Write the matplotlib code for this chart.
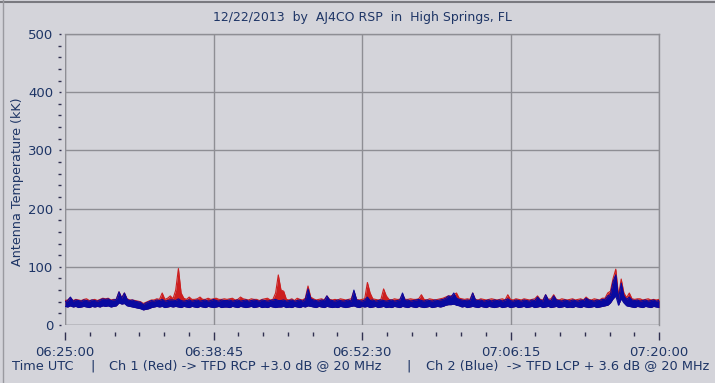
import numpy as np
import matplotlib
matplotlib.use("Agg")
import matplotlib.pyplot as plt
from matplotlib.ticker import FixedLocator, MultipleLocator

# ---------------- data ----------------
title = "12/22/2013  by  AJ4CO RSP  in  High Springs, FL"
ylabel = "Antenna Temperature (kK)"
xtick_seconds = [0, 825, 1650, 2475, 3300]
xtick_labels = ["06:25:00", "06:38:45", "06:52:30", "07:06:15", "07:20:00"]
sample_step_s = 15  # seconds between samples, starting 06:25:00

# Ch 2 (Blue) -> TFD LCP, upper / lower edge of the noisy trace, kK
blue_top = [
    40, 42, 48, 41, 43, 42, 41, 43, 42, 41, 43, 42, 41, 43, 45, 44, 45, 42, 43, 44,
    57, 46, 55, 44, 42, 43, 41, 40, 39, 35, 38, 40, 42, 41, 43, 42, 44, 41, 42, 43,
    43, 42, 45, 42, 41, 42, 43, 41, 42, 43, 41, 42, 43, 41, 42, 44, 42, 41, 43, 42,
    42, 43, 41, 42, 43, 41, 42, 43, 41, 42, 43, 42, 41, 43, 42, 41, 42, 43, 44, 42,
    42, 43, 41, 42, 43, 41, 42, 43, 41, 44, 62, 45, 43, 42, 41, 43, 42, 50, 43, 42,
    41, 43, 42, 41, 42, 43, 41, 60, 43, 42, 41, 43, 48, 42, 43, 41, 42, 43, 42, 41,
    42, 43, 41, 42, 43, 55, 42, 43, 41, 42, 43, 44, 42, 41, 43, 42, 41, 43, 42, 43,
    44, 46, 50, 48, 55, 46, 44, 43, 42, 43, 42, 55, 43, 42, 43, 41, 42, 43, 41, 43,
    42, 43, 41, 43, 45, 42, 41, 43, 42, 41, 43, 42, 41, 43, 42, 48, 43, 41, 52, 43,
    42, 50, 43, 42, 41, 43, 42, 41, 43, 42, 41, 43, 42, 46, 43, 42, 41, 43, 42, 44,
    44, 50, 52, 75, 86, 45, 72, 50, 44, 48, 43, 42, 43, 41, 42, 43, 41, 42, 43, 41, 42,
]
blue_bot = [
    32, 31, 33, 31, 32, 30, 31, 32, 31, 30, 32, 31, 32, 31, 33, 32, 33, 31, 32, 33,
    38, 36, 37, 33, 32, 31, 30, 29, 28, 26, 27, 28, 30, 31, 32, 31, 32, 30, 31, 32,
    31, 32, 31, 30, 32, 31, 30, 32, 31, 30, 32, 31, 30, 32, 31, 30, 31, 32, 30, 31,
    31, 30, 32, 31, 30, 32, 31, 30, 31, 32, 30, 31, 32, 30, 31, 30, 32, 31, 30, 31,
    31, 32, 30, 31, 30, 32, 31, 30, 32, 31, 33, 32, 31, 30, 32, 31, 30, 32, 31, 30,
    31, 30, 32, 31, 30, 31, 32, 33, 31, 30, 32, 31, 32, 30, 31, 32, 30, 31, 32, 30,
    31, 30, 32, 31, 30, 32, 31, 30, 32, 31, 30, 32, 31, 30, 31, 32, 30, 31, 32, 31,
    32, 34, 35, 35, 36, 34, 33, 31, 32, 30, 31, 32, 31, 30, 32, 31, 30, 32, 31, 30,
    31, 32, 30, 31, 32, 30, 31, 32, 30, 31, 32, 30, 31, 32, 30, 31, 32, 30, 31, 32,
    30, 31, 32, 30, 31, 32, 30, 31, 30, 32, 31, 30, 32, 31, 30, 31, 32, 30, 31, 32,
    33, 34, 38, 45, 50, 34, 45, 38, 33, 32, 31, 30, 32, 31, 30, 32, 31, 30, 32, 31, 30,
]

# Ch 1 (Red) -> TFD RCP, upper edge of the noisy trace, kK
red_top = [
    42, 43, 47, 42, 44, 43, 42, 44, 45, 42, 43, 44, 42, 44, 46, 45, 46, 43, 44, 44,
    57, 47, 55, 45, 43, 43, 42, 41, 40, 37, 39, 41, 43, 43, 45, 44, 55, 44, 46, 50,
    45, 60, 97, 55, 46, 44, 48, 44, 44, 45, 48, 44, 44, 46, 44, 45, 46, 44, 44, 45,
    44, 45, 46, 43, 44, 48, 45, 44, 43, 45, 44, 44, 42, 44, 45, 46, 43, 44, 55, 86,
    60, 58, 44, 43, 45, 42, 46, 44, 43, 46, 67, 48, 45, 43, 44, 45, 43, 50, 44, 43,
    44, 43, 45, 44, 43, 44, 45, 58, 44, 43, 44, 45, 73, 55, 45, 44, 43, 44, 62, 50,
    44, 43, 45, 44, 44, 52, 44, 44, 45, 44, 44, 45, 52, 44, 43, 45, 44, 43, 44, 45,
    46, 48, 50, 50, 52, 55, 46, 45, 44, 45, 44, 55, 44, 43, 45, 44, 43, 44, 45, 44,
    43, 44, 45, 43, 52, 44, 43, 45, 44, 43, 45, 44, 43, 44, 45, 50, 44, 43, 52, 44,
    45, 52, 44, 43, 45, 44, 43, 44, 45, 43, 44, 45, 43, 48, 44, 43, 45, 44, 43, 46,
    46, 55, 58, 80, 96, 50, 79, 55, 47, 55, 45, 44, 45, 45, 43, 44, 45, 43, 44, 43, 44,
]

caption_parts = [
    "Time UTC",
    "|",
    "Ch 1 (Red) -> TFD RCP +3.0 dB @ 20 MHz",
    "|",
    "Ch 2 (Blue)  -> TFD LCP + 3.6 dB @ 20 MHz",
]

# ---------------- style ----------------
W, H = 715, 383
bg = "#d4d4da"
txt = "#1e3566"
grid_c = "#8e8e94"
red_c = "#cc1e1e"
blue_c = "#0a0aa0"

fig = plt.figure(figsize=(W / 100, H / 100), dpi=100, facecolor=bg)
ax = fig.add_axes([65 / W, (H - 325) / H, (659 - 65) / W, (325 - 34) / H])
ax.set_facecolor(bg)

t = np.arange(len(blue_top)) * sample_step_s
ax.fill_between(t, blue_bot, red_top, color=red_c, lw=0, zorder=3)
ax.plot(t, red_top, color=red_c, lw=0.8, zorder=3)
ax.fill_between(t, blue_bot, blue_top, color=blue_c, lw=0, zorder=4)
ax.plot(t, blue_top, color=blue_c, lw=0.8, zorder=4)
ax.plot(t, blue_bot, color=blue_c, lw=0.8, zorder=4)

ax.set_xlim(0, 3300)
ax.set_ylim(0, 500)

ax.xaxis.set_major_locator(FixedLocator(xtick_seconds))
ax.set_xticklabels(xtick_labels)
ax.xaxis.set_minor_locator(MultipleLocator(137.5))
ax.yaxis.set_major_locator(MultipleLocator(100))
ax.yaxis.set_minor_locator(MultipleLocator(20))

ax.grid(True, which="major", color=grid_c, lw=1.0, zorder=1)
for s in ax.spines.values():
    s.set_color(grid_c)
    s.set_linewidth(1.0)
ax.spines["bottom"].set_position(("outward", 5))
ax.spines["bottom"].set_visible(False)
ax.spines["left"].set_position(("outward", 3))
ax.spines["left"].set_visible(False)
ax.axhline(0, color=grid_c, lw=1.0, zorder=2)
ax.axvline(0, color=grid_c, lw=1.0, zorder=2)

ax.tick_params(axis="x", which="major", length=6, width=1, color="#303050",
               labelsize=9.5, labelcolor=txt, pad=4)
ax.tick_params(axis="x", which="minor", length=3, width=1, color="#303050")
ax.tick_params(axis="y", which="major", length=1.5, width=1, color="#303050",
               labelsize=9.5, labelcolor=txt, pad=4)
ax.tick_params(axis="y", which="minor", length=2, width=1, color="#303050")

fig.text(362 / W, 1 - 18 / H, title, ha="center", va="center",
         fontsize=9, color=txt)
fig.text(18 / W, 1 - 182 / H, ylabel, ha="center", va="center",
         rotation=90, fontsize=9.2, color=txt)

cap_x = [12, 90, 109, 406, 426]
for x, s in zip(cap_x, caption_parts):
    fig.text(x / W, 1 - 366 / H, s, ha="left", va="center", fontsize=9.3, color=txt)

# window frame lines
fig.add_artist(plt.Line2D([0, 1], [1 - 1.5 / H, 1 - 1.5 / H], color="#7a7a80", lw=1.5))
fig.add_artist(plt.Line2D([2.5 / W, 2.5 / W], [0, 1], color="#9a9aa0", lw=1.0))

fig.savefig("out.png", dpi=100, facecolor=bg)
